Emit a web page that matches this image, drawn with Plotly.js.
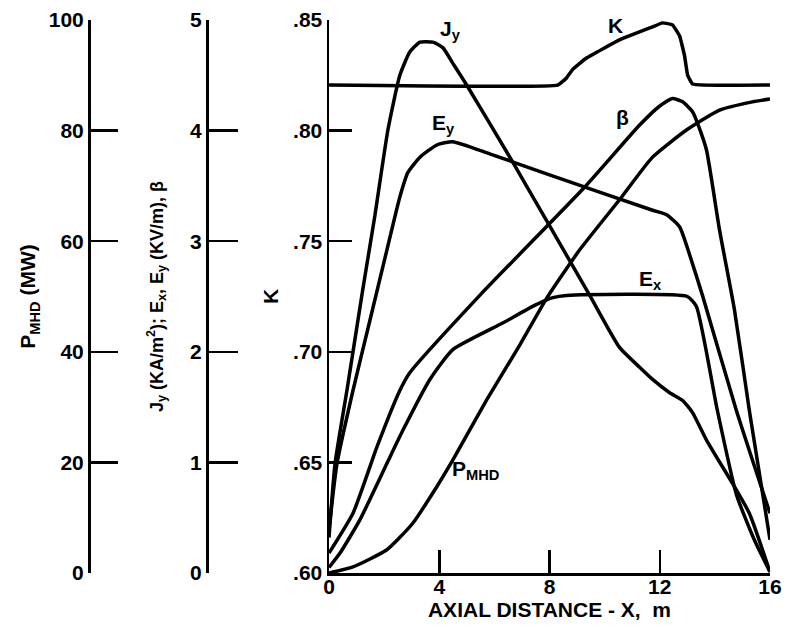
<!DOCTYPE html>
<html>
<head>
<meta charset="utf-8">
<script src="https://cdn.plot.ly/plotly-3.0.1.min.js"></script>
<style>html,body{margin:0;padding:0;background:#fff;}#chart{width:785px;height:631px;}</style>
</head>
<body>
<div id="chart"></div>
<script>
// ---- data ----
const xJy = [0, 0.22, 0.65, 1.23, 1.67, 2.14, 2.57, 2.93, 3.30, 3.77, 4.13, 4.49, 5.0, 6.63, 8.0, 9.46, 10.54, 11.27, 11.74, 12.36, 12.83, 13.19, 13.70, 14.64, 15.25, 16.0];
const Jy  = [0.32, 0.99, 1.65, 2.57, 3.24, 4.01, 4.50, 4.71, 4.80, 4.80, 4.75, 4.61, 4.41, 3.73, 3.14, 2.51, 2.04, 1.86, 1.75, 1.63, 1.56, 1.45, 1.20, 0.81, 0.54, 0.01];

const xEy = [0, 0.29, 0.87, 1.49, 2.10, 2.57, 2.86, 3.30, 3.91, 4.49, 5.83, 8.0, 11.74, 12.25, 12.72, 13.08, 13.55, 14.78, 16.0];
const Ey  = [0.39, 0.99, 1.65, 2.29, 2.92, 3.40, 3.62, 3.76, 3.87, 3.90, 3.79, 3.60, 3.28, 3.24, 3.13, 2.88, 2.51, 1.47, 0.54];

const xEx = [0, 0.40, 1.12, 2.10, 2.68, 3.66, 4.49, 6.30, 7.46, 8.12, 8.62, 13.0, 13.33, 14.09, 14.78, 15.43, 16.0];
const Ex  = [0.05, 0.18, 0.48, 0.99, 1.29, 1.75, 2.02, 2.26, 2.42, 2.49, 2.51, 2.50, 2.41, 1.47, 0.71, 0.30, 0.01];

const xBeta = [0, 0.87, 1.74, 2.57, 2.93, 5.47, 9.28, 11.27, 11.99, 12.46, 12.83, 13.19, 13.44, 13.70, 14.17, 14.71, 15.25, 16.0];
const beta  = [0.18, 0.54, 1.14, 1.65, 1.81, 2.51, 3.49, 4.05, 4.22, 4.29, 4.26, 4.17, 4.02, 3.82, 3.10, 2.38, 1.47, 0.30];

const xP = [0, 0.87, 2.10, 3.04, 3.91, 4.49, 5.72, 6.92, 7.90, 9.09, 10.54, 11.74, 12.97, 14.17, 15.36, 16.0];
const Pmhd = [0, 1.1, 4.2, 9.0, 15.6, 20.4, 31.3, 41.2, 49.7, 58.4, 67.5, 75.2, 80.1, 83.7, 85.2, 85.7];

const xK = [0, 8.30, 8.61, 8.85, 9.34, 10.54, 11.74, 12.10, 12.46, 12.72, 12.90, 13.01, 13.19, 16.0];
const K  = [0.8206, 0.8206, 0.8237, 0.8278, 0.8328, 0.8410, 0.8469, 0.8487, 0.8478, 0.8428, 0.8338, 0.8251, 0.8211, 0.8206];

const xTicks = [0, 4, 8, 12, 16];
const kTicks = [0.60, 0.65, 0.70, 0.75, 0.80, 0.85];
const kTickText = ['.60', '.65', '.70', '.75', '.80', '.85'];
const pTicks = [0, 20, 40, 60, 80, 100];
const jTicks = [0, 1, 2, 3, 4, 5];

// ---- drawing ----
const FONT = '"Liberation Sans Narrow", "Liberation Sans", Arial, sans-serif';
const line = {color: '#000', width: 3.5, shape: 'spline', smoothing: 0.5};

const traces = [
  {x: xJy, y: Jy, yaxis: 'y3', name: 'Jy', mode: 'lines', line: line},
  {x: xEy, y: Ey, yaxis: 'y3', name: 'Ey', mode: 'lines', line: line},
  {x: xEx, y: Ex, yaxis: 'y3', name: 'Ex', mode: 'lines', line: line},
  {x: xBeta, y: beta, yaxis: 'y3', name: 'beta', mode: 'lines', line: line},
  {x: xP, y: Pmhd, yaxis: 'y2', name: 'PMHD', mode: 'lines', line: line},
  {x: xK, y: K, yaxis: 'y', name: 'K', mode: 'lines', line: {color: '#000', width: 3.5, shape: 'spline', smoothing: 0.3}}
];

const tickFont = {family: FONT, size: 21, color: '#000', weight: 'bold'};
const titleFont = {family: FONT, size: 21, color: '#000', weight: 'bold'};
const W = 785, ML = 10, MR = 15, PW = W - ML - MR;
const pos = px => (px - ML) / PW;

const common = {showgrid: false, zeroline: false, showline: true, linecolor: '#000', linewidth: 2.5,
  ticks: 'inside', tickcolor: '#000', tickwidth: 2.5, tickfont: tickFont};

const layout = {
  width: 785, height: 631,
  margin: {l: ML, r: MR, t: 20, b: 58},
  paper_bgcolor: '#fff', plot_bgcolor: '#fff',
  showlegend: false,
  font: {family: FONT, color: '#000'},
  xaxis: Object.assign({}, common, {
    domain: [pos(329), 1], range: [0, 16], tickvals: xTicks, ticklen: 23, anchor: 'y',
    ticklabelstandoff: -7,
    title: {text: 'AXIAL DISTANCE - X,  m', font: titleFont, standoff: 0}
  }),
  yaxis: Object.assign({}, common, {
    range: [0.60, 0.85], tickvals: kTicks, ticktext: kTickText, ticklen: 23, anchor: 'x',
    title: {text: 'K', font: titleFont, standoff: 9}
  }),
  yaxis2: Object.assign({}, common, {
    overlaying: 'y', anchor: 'free', position: pos(89), side: 'left',
    range: [0, 100], tickvals: pTicks, ticklen: 27,
    title: {text: 'P<sub>MHD</sub> (MW)', font: titleFont, standoff: 6}
  }),
  yaxis3: Object.assign({}, common, {
    overlaying: 'y', anchor: 'free', position: pos(207), side: 'left',
    range: [0, 5], tickvals: jTicks, ticklen: 29,
    title: {text: 'J<sub>y</sub> (KA/m<sup>2</sup>); E<sub>x</sub>, E<sub>y</sub> (KV/m), β', font: {family: FONT, size: 18, color: '#000', weight: 'bold'}, standoff: 21}
  }),
  annotations: [
    {xref: 'x', yref: 'y', x: 3.95, y: 0.8455, xanchor: 'left', yanchor: 'middle', text: 'J<sub>y</sub>', showarrow: false, font: titleFont},
    {xref: 'x', yref: 'y', x: 10.4, y: 0.8477, xanchor: 'center', yanchor: 'middle', text: 'K', showarrow: false, font: titleFont},
    {xref: 'x', yref: 'y', x: 3.66, y: 0.803, xanchor: 'left', yanchor: 'middle', text: 'E<sub>y</sub>', showarrow: false, font: titleFont},
    {xref: 'x', yref: 'y', x: 10.65, y: 0.806, xanchor: 'center', yanchor: 'middle', text: 'β', showarrow: false, font: titleFont},
    {xref: 'x', yref: 'y', x: 11.16, y: 0.7324, xanchor: 'left', yanchor: 'middle', text: 'E<sub>x</sub>', showarrow: false, font: titleFont},
    {xref: 'x', yref: 'y', x: 4.38, y: 0.6466, xanchor: 'left', yanchor: 'middle', text: 'P<sub>MHD</sub>', showarrow: false, font: titleFont}
  ]
};

Plotly.newPlot('chart', traces, layout, {displayModeBar: false, staticPlot: true});
</script>
</body>
</html>
